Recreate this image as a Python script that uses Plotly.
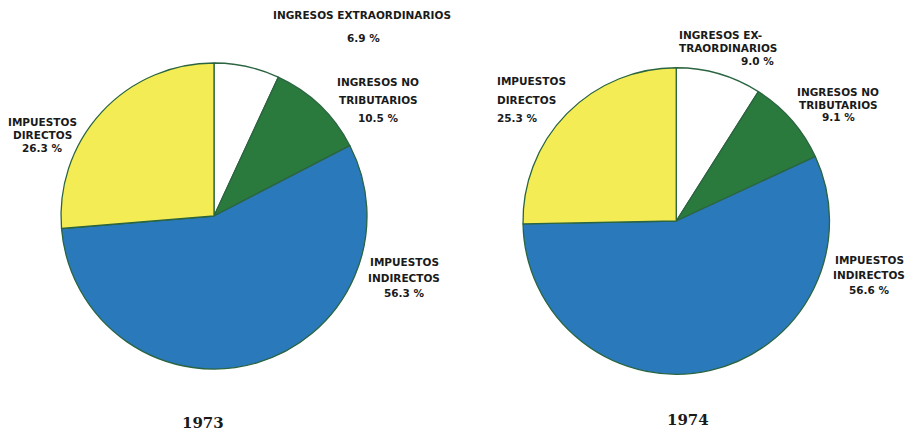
import plotly.graph_objects as go

W, H = 915, 434

categories = ["INGRESOS EXTRAORDINARIOS", "INGRESOS NO TRIBUTARIOS",
              "IMPUESTOS INDIRECTOS", "IMPUESTOS DIRECTOS"]
years = ["1973", "1974"]
values_1973 = [6.9, 10.5, 56.3, 26.3]
values_1974 = [9.0, 9.1, 56.6, 25.3]

colors = ['#ffffff', '#2b7a3d', '#2a79bb', '#f4ec55']
edge = '#2a6440'


def px(x, y):
    return x / W, 1 - y / H


def add_lines(fig, lines, x, y0, step, anchor='center'):
    # one annotation per text line, the print had very loose leading
    for i, line in enumerate(lines):
        ax, ay = px(x, y0 + i * step)
        fig.add_annotation(
            x=ax, y=ay, xref='paper', yref='paper', text=line,
            showarrow=False, xanchor=anchor, yanchor='middle',
            font=dict(family='DejaVu Sans', size=10.5, color='#1a1a1a', weight='bold')
        )


fig = go.Figure()

domains = [
    dict(x=[61 / W, 367 / W], y=[1 - 369 / H, 1 - 63 / H]),
    dict(x=[523 / W, 829.5 / W], y=[1 - 374.5 / H, 1 - 67.5 / H]),
]

for vals, dom, yr in zip([values_1973, values_1974], domains, years):
    fig.add_trace(go.Pie(
        labels=categories,
        values=vals,
        sort=False,
        direction='clockwise',
        rotation=0,
        textinfo='none',
        hoverinfo='label+percent',
        marker=dict(colors=colors, line=dict(color=edge, width=1.3)),
        domain=dom,
        showlegend=False,
        name=yr
    ))

pct = lambda v: f"{v:.1f} %"

# 1973 labels
add_lines(fig, ["INGRESOS EXTRAORDINARIOS"], 362, 15, 0)
add_lines(fig, [pct(values_1973[0])], 363, 38, 0)
add_lines(fig, ["INGRESOS NO", "TRIBUTARIOS", pct(values_1973[1])], 378, 82, 18)
add_lines(fig, ["IMPUESTOS", "DIRECTOS", pct(values_1973[3])], 42, 122, 13)
add_lines(fig, ["IMPUESTOS", "INDIRECTOS", pct(values_1973[2])], 404, 262, 15.5)

# 1974 labels
add_lines(fig, ["INGRESOS EX-", "TRAORDINARIOS"], 677, 35, 13, anchor='left')
add_lines(fig, [pct(values_1974[0])], 776, 61, 0, anchor='right')
add_lines(fig, ["INGRESOS NO", "TRIBUTARIOS", pct(values_1974[1])], 838, 92, 12.5)
add_lines(fig, ["IMPUESTOS", "DIRECTOS", pct(values_1974[3])], 495, 81, 18.5, anchor='left')
add_lines(fig, ["IMPUESTOS", "INDIRECTOS", pct(values_1974[2])], 869, 260, 15)

# year captions
for yr, xc, yc in zip(years, [203, 688], [423, 420]):
    ax, ay = px(xc, yc)
    fig.add_annotation(
        x=ax, y=ay, xref='paper', yref='paper', text=yr, showarrow=False,
        xanchor='center', yanchor='middle',
        font=dict(family='DejaVu Serif', size=15, color='#1a1a1a', weight='bold')
    )

fig.update_layout(
    width=W,
    height=H,
    margin=dict(l=0, r=0, t=0, b=0),
    paper_bgcolor='#ffffff',
    plot_bgcolor='#ffffff'
)

# the page body has a default 8px margin, drop it so the figure fills the window
fig.write_html("out.html", config={'displayModeBar': False},
               post_script="document.body.style.margin='0';")
